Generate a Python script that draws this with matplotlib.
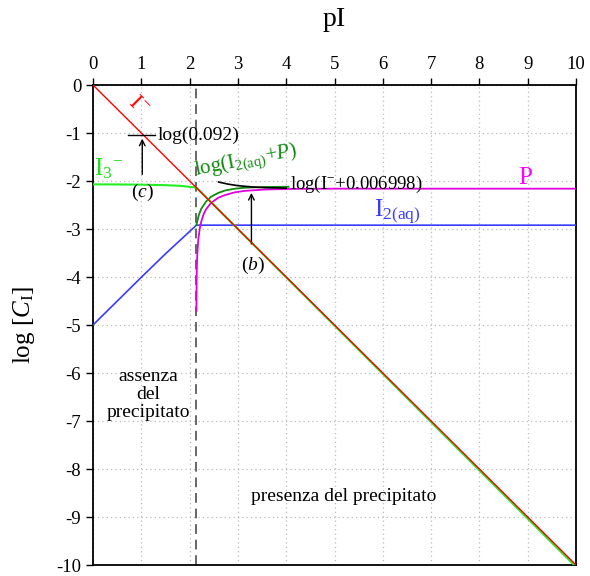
import matplotlib
matplotlib.use("Agg")
import matplotlib.pyplot as plt

plt.rcParams['font.family'] = ['Liberation Serif', 'DejaVu Serif']
plt.rcParams['mathtext.fontset'] = 'custom'
plt.rcParams['mathtext.rm'] = 'Liberation Serif'
plt.rcParams['mathtext.it'] = 'Liberation Serif:italic'

# ---- data ----
x_ticks = [0, 1, 2, 3, 4, 5, 6, 7, 8, 9, 10]
y_ticks = [0, -1, -2, -3, -4, -5, -6, -7, -8, -9, -10]
pI_sat = 2.14

iodide_x = [0, 10]
iodide_y = [0, -10]

i3_x = [0, 0.5, 1.0, 1.5, 1.8, 2.0, 2.14, 10]
i3_y = [-2.07, -2.072, -2.076, -2.087, -2.10, -2.122, -2.137, -10.04]

i2_x = [0, 1.0, 1.5, 2.0, 2.14, 10]
i2_y = [-5.0, -4.006, -3.517, -3.052, -2.92, -2.92]

p_x = [2.1415, 2.142, 2.145, 2.15, 2.16, 2.18, 2.21, 2.24, 2.29, 2.34, 2.44,
       2.59, 2.74, 2.94, 3.14, 3.54, 4.14, 5.0, 10]
p_y = [-4.70, -4.50, -4.10, -3.80, -3.51, -3.22, -2.99, -2.85, -2.69, -2.59,
       -2.46, -2.35, -2.29, -2.235, -2.206, -2.178, -2.164, -2.16, -2.16]

sum_x = [2.14, 2.19, 2.24, 2.34, 2.44, 2.59, 2.74, 2.94, 3.14, 3.54, 4.05]
sum_y = [-2.92, -2.71, -2.58, -2.43, -2.33, -2.25, -2.196, -2.16, -2.14, -2.125, -2.12]

approx_x = [2.6, 2.8, 3.0, 3.3, 3.6, 4.0]
approx_y = [-2.022, -2.066, -2.097, -2.125, -2.140, -2.149]

# ---- figure ----
fig = plt.figure(figsize=(5.9, 5.76), dpi=100)
ax = fig.add_axes([93/590, 1-565/576, (576-93)/590, (565-85)/576])

ax.set_xlim(0, 10)
ax.set_ylim(-10, 0)
ax.set_xticks(x_ticks)
ax.set_yticks(y_ticks)
ax.set_yticklabels([str(v) for v in y_ticks])
ax.xaxis.tick_top()
ax.xaxis.set_label_position('top')
ax.tick_params(axis='both', direction='out', length=5, width=1, labelsize=13.5,
               top=True, bottom=False, left=True, right=False)
ax.grid(True, linestyle=(0, (1, 2.5)), color='#bbbbbb', linewidth=0.9)
for s in ax.spines.values():
    s.set_linewidth(1.3)

ax.set_xlabel('pI', fontsize=20, labelpad=22)
ax.set_ylabel(r'log [$C_{\mathrm{I}}$]', fontsize=18, labelpad=14)

ax.axvline(pI_sat, color='#666666', linestyle=(0, (5, 3)), linewidth=1.4, zorder=2)

ax.plot(i2_x, i2_y, color='#3b3bff', linewidth=1.2, zorder=3)
ax.plot(p_x, p_y, color='#e000e0', linewidth=1.3, zorder=3)
ax.plot(sum_x, sum_y, color='#108a10', linewidth=1.3, zorder=3)
ax.plot(approx_x, approx_y, color='black', linewidth=1.2, zorder=4)
ax.plot(i3_x, i3_y, color='#22ee22', linewidth=1.5, zorder=3)
ax.plot(iodide_x, iodide_y, color='#ff0000', linewidth=1.0, zorder=4)

# annotation (c)
ax.plot([0.73, 1.28], [-1.04, -1.04], color='black', linewidth=1.0, zorder=5)
ax.annotate('', xy=(1.02, -1.06), xytext=(1.02, -1.92),
            arrowprops=dict(arrowstyle='->', color='black', lw=1.0))
ax.text(1.33, -1.04, 'log(0.092)', fontsize=14, va='center', ha='left')
ax.text(1.03, -2.23, '($c$)', fontsize=14, va='center', ha='center')

# annotation (b)
ax.annotate('', xy=(3.28, -2.19), xytext=(3.28, -3.37),
            arrowprops=dict(arrowstyle='->', color='black', lw=1.0))
ax.text(3.32, -3.75, '($b$)', fontsize=14, va='center', ha='center')

# labels
ax.text(0.92, -0.42, r'I$^{-}$', color='#ff0000', fontsize=17, rotation=-45,
        va='center', ha='center')
ax.text(0.32, -1.75, r'I$_3$$^{-}$', color='#22dd22', fontsize=18,
        va='center', ha='center')
ax.text(2.15, -2.05, r'log(I$_{2(\mathrm{aq})}$+$P$)', color='#108a10', fontsize=15,
        rotation=11, va='bottom', ha='left', rotation_mode='anchor')
ax.text(4.07, -2.08, r'log(I$^{-}$+0.006998)', color='black', fontsize=13.5,
        va='center', ha='left')
ax.text(8.94, -1.93, 'P', color='#ff00ff', fontsize=18, va='center', ha='center')
ax.text(6.3, -2.64, r'I$_{2(\mathrm{aq})}$', color='#3b3bff', fontsize=18,
        va='center', ha='center')
ax.text(1.14, -6.45, 'assenza\ndel\nprecipitato', fontsize=14, va='center',
        ha='center', linespacing=1.1)
ax.text(5.2, -8.57, 'presenza del precipitato', fontsize=14, va='center',
        ha='center')

fig.savefig('out.png', dpi=100)
